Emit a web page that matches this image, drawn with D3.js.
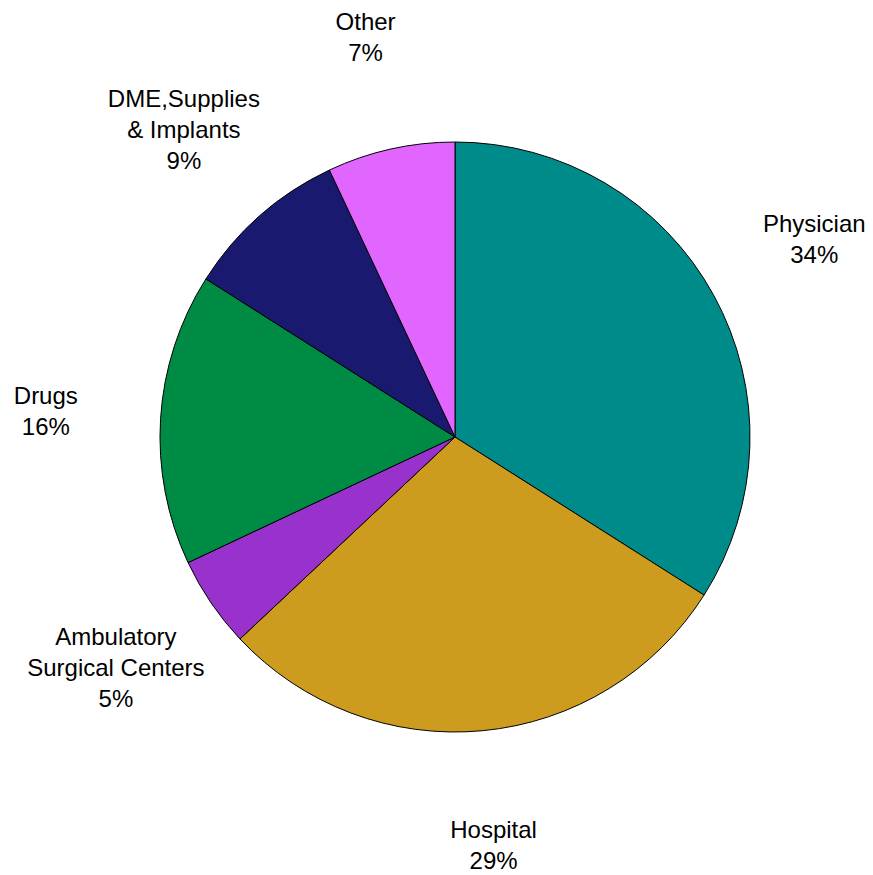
<!DOCTYPE html>
<html>
<head>
<meta charset="utf-8">
<script src="https://cdn.jsdelivr.net/npm/d3@7"></script>
<style>
  body { margin: 0; background: #fff; }
  .slice-label { font-family: "Liberation Sans", Arial, sans-serif; font-size: 24px; fill: #000; }
</style>
</head>
<body>
<div id="chart"></div>
<script>
// categories, clockwise from 12 o'clock
var categories = ["Physician", "Hospital", "Ambulatory Surgical Centers", "Drugs", "DME,Supplies & Implants", "Other"];
// label lines as printed
var labelLines = [["Physician"], ["Hospital"], ["Ambulatory", "Surgical Centers"], ["Drugs"], ["DME,Supplies", "& Implants"], ["Other"]];
// share of spending, percent
var shares = [34, 29, 5, 16, 9, 7];
var colours = ["#008b8b", "#cd9b1d", "#9932cc", "#008b45", "#191970", "#e066ff"];

var width = 873, height = 875;
var cx = 455, cy = 437, radius = 295, labelRadius = 410;
var lineHeight = 31;

var data = categories.map(function(c, i) {
    return {name: c, lines: labelLines[i], value: shares[i], colour: colours[i]};
});

var svg = d3.select("#chart").append("svg")
    .attr("width", width)
    .attr("height", height);

var g = svg.append("g")
    .attr("transform", "translate(" + cx + "," + cy + ")");

var pie = d3.pie()
    .sort(null)
    .value(function(d) { return d.value; });

var arc = d3.arc().innerRadius(0).outerRadius(radius);
var labelArc = d3.arc().innerRadius(labelRadius).outerRadius(labelRadius);

var arcs = pie(data);

g.selectAll("path.slice")
    .data(arcs)
    .enter().append("path")
    .attr("class", "slice")
    .attr("d", arc)
    .attr("fill", function(d) { return d.data.colour; })
    .attr("stroke", "#000")
    .attr("stroke-width", 1);

// labels: name lines then the percentage, centred on the label radius
var labels = g.selectAll("text.slice-label")
    .data(arcs)
    .enter().append("text")
    .attr("class", "slice-label")
    .attr("text-anchor", "middle")
    .each(function(d) {
        var c = labelArc.centroid(d);
        var lines = d.data.lines.concat([d.data.value + "%"]);
        var top = c[1] - (lines.length - 1) * lineHeight / 2 + 8.5;
        var text = d3.select(this);
        lines.forEach(function(l, i) {
            text.append("tspan")
                .attr("x", c[0])
                .attr("y", top + i * lineHeight)
                .text(l);
        });
    });
</script>
</body>
</html>
